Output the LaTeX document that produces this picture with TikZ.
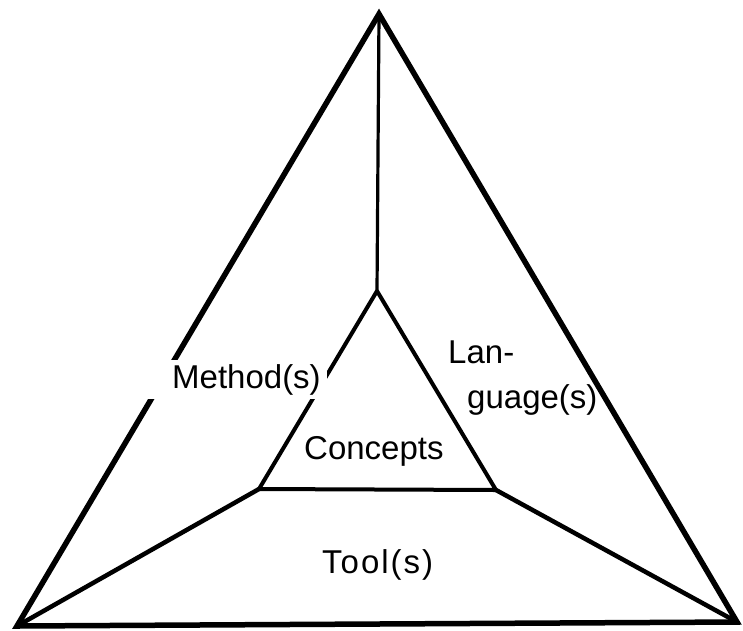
\documentclass[tikz,border=0pt]{standalone}
\usepackage{fontspec}
\setmainfont{Liberation Sans}
\begin{document}
\begin{tikzpicture}[x=1pt,y=-1pt,
  outerline/.style={line width=5.5pt, line join=miter},
  innerline/.style={line width=4pt, line join=round},
  spoke/.style={line width=4.5pt},
  axis/.style={line width=3.2pt},
  lbl/.style={font=\fontsize{33}{40}\selectfont, inner sep=0pt}]
\useasboundingbox (0,0) rectangle (743,630);
% outer triangle corners
\coordinate (A) at (379,14);
\coordinate (B) at (17,626);
\coordinate (C) at (737,622);
% inner triangle corners
\coordinate (a) at (377,291);
\coordinate (b) at (259,489);
\coordinate (c) at (496,490);
\draw[outerline] (A) -- (B) -- (C) -- cycle;
\draw[axis] (A) -- (a);
\draw[spoke] (b) -- (B);
\draw[spoke] (c) -- (C);
\draw[innerline] (a) -- (b) -- (c) -- cycle;
% labels
\node[lbl, fill=white, inner ysep=4pt, anchor=base west] (meth) at (144,388)
  {\hspace*{28pt}Method(s)\hspace*{6pt}};
\node[lbl, anchor=base west] (lanA) at (448,363) {Lan-};
\node[lbl, anchor=base west] (lanB) at (467,408) {guage(s)};
\node[lbl, anchor=base west] (conc) at (304,459) {Concepts};
\node[lbl, anchor=base west] (tool) at (322,573) {\addfontfeatures{LetterSpace=6}Tool(s)};
\end{tikzpicture}
\end{document}
